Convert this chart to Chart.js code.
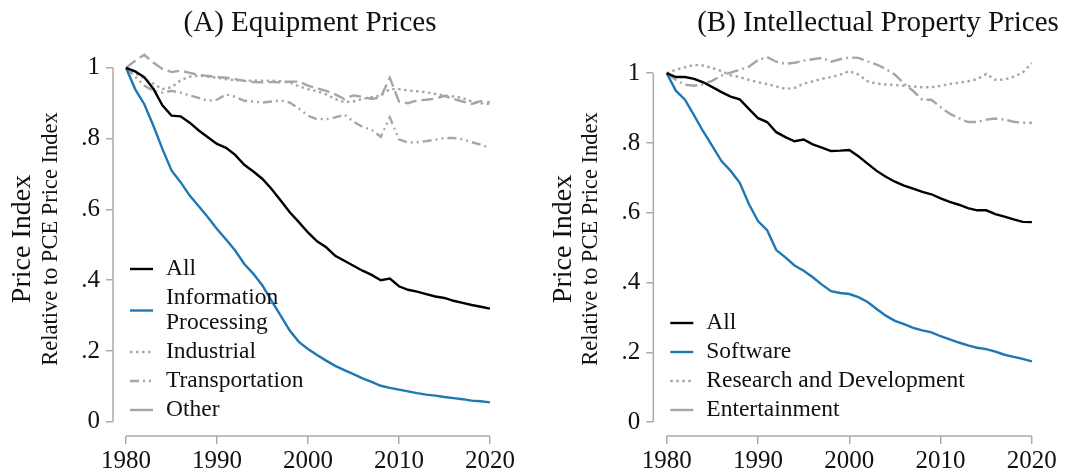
<!DOCTYPE html>
<html>
<head>
<meta charset="utf-8">
<script src="https://cdn.jsdelivr.net/npm/chart.js@4.4.1/dist/chart.umd.min.js"></script>
<style>
  html, body { margin: 0; padding: 0; background: #fff; }
  #wrap { display: flex; width: 1066px; height: 474px; }
  canvas { display: block; }
</style>
</head>
<body>
<div id="wrap">
  <canvas id="equipChart" width="533" height="474"></canvas>
  <canvas id="ipChart" width="533" height="474"></canvas>
</div>
<script>
const years = [1980, 1981, 1982, 1983, 1984, 1985, 1986, 1987, 1988, 1989,
  1990, 1991, 1992, 1993, 1994, 1995, 1996, 1997, 1998, 1999,
  2000, 2001, 2002, 2003, 2004, 2005, 2006, 2007, 2008, 2009,
  2010, 2011, 2012, 2013, 2014, 2015, 2016, 2017, 2018, 2019, 2020];
const yearTicks = [1980, 1990, 2000, 2010, 2020];
const priceTicks = [0, 0.2, 0.4, 0.6, 0.8, 1];

// (A) Equipment
const equipLabels = ['All', 'Information\nProcessing', 'Industrial', 'Transportation', 'Other'];
const equipAll = [1.000, 0.990, 0.974, 0.941, 0.894, 0.865, 0.863, 0.845, 0.823, 0.804,
  0.785, 0.774, 0.754, 0.726, 0.707, 0.686, 0.658, 0.625, 0.592, 0.564,
  0.535, 0.510, 0.493, 0.469, 0.455, 0.441, 0.427, 0.415, 0.400, 0.405,
  0.383, 0.373, 0.368, 0.361, 0.354, 0.350, 0.342, 0.336, 0.330, 0.325, 0.320];
const equipInfo = [1.000, 0.940, 0.898, 0.837, 0.771, 0.710, 0.677, 0.639, 0.609, 0.578,
  0.545, 0.515, 0.484, 0.446, 0.418, 0.385, 0.342, 0.300, 0.258, 0.226,
  0.206, 0.189, 0.173, 0.158, 0.146, 0.135, 0.123, 0.113, 0.102, 0.096,
  0.091, 0.086, 0.081, 0.077, 0.074, 0.070, 0.067, 0.064, 0.060, 0.058, 0.055];
const equipIndustrial = [1.000, 0.985, 0.970, 0.955, 0.940, 0.945, 0.965, 0.975, 0.978, 0.975,
  0.972, 0.968, 0.965, 0.964, 0.964, 0.964, 0.964, 0.962, 0.959, 0.948,
  0.940, 0.934, 0.925, 0.912, 0.903, 0.905, 0.912, 0.917, 0.922, 0.940,
  0.940, 0.936, 0.934, 0.931, 0.926, 0.922, 0.919, 0.915, 0.905, 0.900, 0.898];
const equipTransport = [1.000, 0.975, 0.950, 0.935, 0.930, 0.935, 0.930, 0.922, 0.915, 0.907,
  0.910, 0.925, 0.918, 0.907, 0.905, 0.902, 0.905, 0.908, 0.902, 0.885,
  0.865, 0.855, 0.855, 0.860, 0.868, 0.848, 0.833, 0.825, 0.805, 0.860,
  0.798, 0.789, 0.790, 0.793, 0.797, 0.802, 0.802, 0.798, 0.790, 0.783, 0.774];
const equipOther = [1.000, 1.020, 1.037, 1.015, 0.997, 0.988, 0.992, 0.986, 0.980, 0.977,
  0.974, 0.972, 0.968, 0.963, 0.960, 0.959, 0.960, 0.959, 0.961, 0.961,
  0.950, 0.942, 0.935, 0.925, 0.912, 0.922, 0.918, 0.912, 0.917, 0.972,
  0.905, 0.900, 0.908, 0.910, 0.913, 0.921, 0.912, 0.905, 0.898, 0.906, 0.903];

// (B) Intellectual property
const ipLabels = ['All', 'Software', 'Research and Development', 'Entertainment'];
const ipAll = [1.000, 0.989, 0.989, 0.984, 0.974, 0.960, 0.946, 0.933, 0.925, 0.898,
  0.871, 0.860, 0.831, 0.817, 0.805, 0.810, 0.796, 0.787, 0.777, 0.778,
  0.780, 0.762, 0.741, 0.720, 0.703, 0.689, 0.678, 0.669, 0.660, 0.653,
  0.641, 0.631, 0.623, 0.613, 0.607, 0.607, 0.596, 0.589, 0.581, 0.574, 0.573];
const ipSoftware = [1.000, 0.950, 0.924, 0.879, 0.833, 0.791, 0.748, 0.720, 0.686, 0.625,
  0.576, 0.550, 0.493, 0.472, 0.449, 0.434, 0.415, 0.394, 0.375, 0.370,
  0.367, 0.358, 0.344, 0.324, 0.305, 0.290, 0.281, 0.270, 0.263, 0.257,
  0.246, 0.237, 0.228, 0.220, 0.213, 0.209, 0.202, 0.193, 0.187, 0.181, 0.174];
const ipRD = [1.000, 1.010, 1.017, 1.024, 1.022, 1.015, 1.006, 0.994, 0.989, 0.981,
  0.974, 0.969, 0.962, 0.955, 0.958, 0.970, 0.977, 0.984, 0.989, 0.996,
  1.006, 0.996, 0.977, 0.970, 0.968, 0.966, 0.964, 0.962, 0.960, 0.960,
  0.964, 0.969, 0.973, 0.977, 0.983, 0.998, 0.981, 0.982, 0.990, 1.002, 1.029];
const ipEnt = [1.000, 0.981, 0.967, 0.964, 0.968, 0.979, 0.993, 1.002, 1.010, 1.019,
  1.038, 1.046, 1.033, 1.027, 1.030, 1.036, 1.040, 1.044, 1.033, 1.040,
  1.045, 1.044, 1.034, 1.025, 1.012, 0.996, 0.970, 0.949, 0.924, 0.924,
  0.903, 0.884, 0.871, 0.860, 0.860, 0.867, 0.870, 0.867, 0.861, 0.858, 0.858];

const FONT = '"Liberation Serif", "Times New Roman", serif';
const textColor = '#111';
const axisColor = '#ababab';
const gray = '#a6a6a6';
const blue = '#1f77b4';

Chart.defaults.font.family = FONT;
Chart.defaults.color = textColor;

// draws axis lines, titles and the in-plot legend
const panelDecor = {
  id: 'panelDecor',
  afterDraw(chart, args, opts) {
    const ctx = chart.ctx;
    const area = chart.chartArea;
    const xs = chart.scales.x;
    const ys = chart.scales.y;
    ctx.save();

    ctx.strokeStyle = axisColor;
    ctx.lineWidth = 1.5;
    ctx.setLineDash([]);
    ctx.beginPath();
    ctx.moveTo(area.left, ys.getPixelForValue(priceTicks[0]));
    ctx.lineTo(area.left, ys.getPixelForValue(priceTicks[priceTicks.length - 1]));
    ctx.moveTo(xs.getPixelForValue(yearTicks[0]), area.bottom);
    ctx.lineTo(xs.getPixelForValue(yearTicks[yearTicks.length - 1]), area.bottom);
    ctx.stroke();

    ctx.fillStyle = textColor;
    ctx.textAlign = 'center';
    ctx.textBaseline = 'alphabetic';
    ctx.font = '29px ' + FONT;
    ctx.fillText(opts.title, opts.titleX, 31);

    ctx.save();
    ctx.translate(area.left - 90, 239);
    ctx.rotate(-Math.PI / 2);
    ctx.textBaseline = 'middle';
    ctx.font = '28px ' + FONT;
    ctx.fillText('Price Index', 0, 0);
    ctx.restore();

    ctx.save();
    ctx.translate(area.left - 62, 239);
    ctx.rotate(-Math.PI / 2);
    ctx.textBaseline = 'middle';
    ctx.font = '22.5px ' + FONT;
    ctx.fillText('Relative to PCE Price Index', 0, 0);
    ctx.restore();

    // legend, anchored so the last row sits at y = 410
    const rowGap = 29, lineGap = 25;
    const items = chart.data.datasets.map(d => ({ ds: d, lines: d.label.split('\n') }));
    let totalSpan = 0;
    items.forEach((it, i) => {
      if (i > 0) totalSpan += rowGap;
      totalSpan += lineGap * (it.lines.length - 1);
    });
    let y = 410 - totalSpan;
    ctx.font = '23.5px ' + FONT;
    ctx.textAlign = 'left';
    ctx.textBaseline = 'middle';
    items.forEach((it, i) => {
      if (i > 0) y += rowGap;
      const midY = y + lineGap * (it.lines.length - 1) / 2;
      const dash = it.ds.borderDash || [];
      ctx.strokeStyle = it.ds.borderColor;
      ctx.lineWidth = it.ds.borderWidth;
      ctx.setLineDash(dash.length && dash[0] >= 10 ? [] : dash);
      ctx.beginPath();
      ctx.moveTo(area.left + 17, midY);
      ctx.lineTo(area.left + 40, midY);
      ctx.stroke();
      ctx.fillStyle = textColor;
      it.lines.forEach((ln, j) => {
        ctx.fillText(ln, area.left + 53, y + j * lineGap);
      });
      y += lineGap * (it.lines.length - 1);
    });
    ctx.restore();
  }
};

function buildDatasets(labels, seriesList, colors, dashes) {
  return seriesList.map((vals, i) => ({
    label: labels[i],
    data: years.map((yr, k) => ({ x: yr, y: vals[k] })),
    borderColor: colors[i],
    borderDash: dashes[i],
    borderWidth: 2.4,
    pointRadius: 0,
    tension: 0,
    fill: false
  }));
}

function makePanel(canvasId, datasets, geom, title, titleX) {
  const canvas = document.getElementById(canvasId);
  return new Chart(canvas, {
    type: 'line',
    data: { datasets: datasets },
    options: {
      responsive: false,
      animation: false,
      layout: { padding: { top: geom.top, right: canvas.width - geom.right, left: 0, bottom: 0 } },
      plugins: {
        legend: { display: false },
        tooltip: { enabled: false },
        panelDecor: { title: title, titleX: titleX }
      },
      scales: {
        x: {
          type: 'linear',
          min: geom.xMin,
          max: 2021,
          afterBuildTicks: s => { s.ticks = yearTicks.map(v => ({ value: v })); },
          afterFit: s => { s.height = canvas.height - geom.bottom; },
          border: { display: false },
          grid: { drawOnChartArea: false, color: axisColor, lineWidth: 1.5, tickLength: 8 },
          ticks: { font: { size: 25 }, color: textColor, padding: 2, maxRotation: 0, autoSkip: false,
            callback: v => String(v) }
        },
        y: {
          min: -0.04,
          max: 1.06,
          afterBuildTicks: s => { s.ticks = priceTicks.map(v => ({ value: v })); },
          afterFit: s => { s.width = geom.left; },
          border: { display: false },
          grid: { drawOnChartArea: false, color: axisColor, lineWidth: 1.5, tickLength: 7 },
          ticks: { font: { size: 25 }, color: textColor, padding: 6, autoSkip: false,
            callback: v => (v === 0 ? '0' : v === 1 ? '1' : String(v).replace(/^0/, '')) }
        }
      }
    },
    plugins: [panelDecor]
  });
}

makePanel('equipChart',
  buildDatasets(equipLabels,
    [equipAll, equipInfo, equipIndustrial, equipTransport, equipOther],
    ['#000', blue, gray, gray, gray],
    [[], [], [2.5, 3.5], [9, 4, 2, 4, 2, 4], [12, 5]]),
  { left: 113, top: 46.6, right: 499, bottom: 436, xMin: 1978.57 },
  '(A) Equipment Prices', 310);

makePanel('ipChart',
  buildDatasets(ipLabels,
    [ipAll, ipSoftware, ipRD, ipEnt],
    ['#000', blue, gray, gray],
    [[], [], [2.5, 3.5], [12, 4, 2, 4]]),
  { left: 120.3, top: 52.3, right: 508, bottom: 436, xMin: 1978.53 },
  '(B) Intellectual Property Prices', 345);
</script>
</body>
</html>
